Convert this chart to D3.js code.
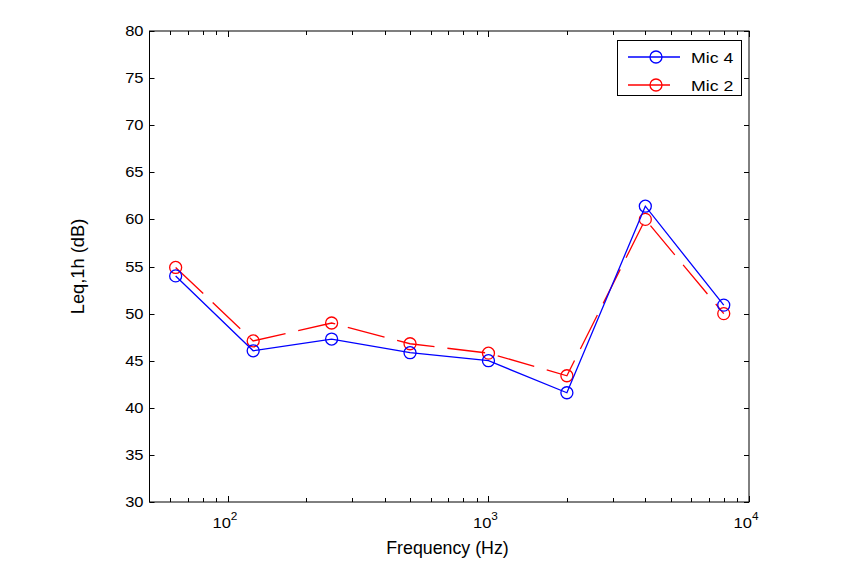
<!DOCTYPE html>
<html><head><meta charset="utf-8">
<script src="https://cdn.jsdelivr.net/npm/d3@7/dist/d3.min.js"></script>
<style>body{margin:0;background:#fff;} text{font-family:"Liberation Sans",Arial,sans-serif;fill:#000;}</style>
</head><body><svg id="c" width="861" height="576"></svg>
<script>
const freqs = [63, 125, 250, 500, 1000, 2000, 4000, 8000];
const mic4 = [54.0, 46.05, 47.3, 45.85, 45.0, 41.6, 61.4, 50.9];
const mic2 = [54.9, 47.1, 49.0, 46.8, 45.8, 43.4, 60.0, 50.0];
const yTicks = [30, 35, 40, 45, 50, 55, 60, 65, 70, 75, 80];
const xMajor = [100, 1000, 10000];
const xMinor = [60,70,80,90,200,300,400,500,600,700,800,900,2000,3000,4000,5000,6000,7000,8000,9000];
const seriesNames = ["Mic 4", "Mic 2"];

const L = 149.5, R = 749, T = 31, B = 502;
const SX = 1.18; // horizontal stretch of text
const svg = d3.select("#c");
const x = d3.scaleLog().domain([50, 10000]).range([L, R]);
const y = d3.scaleLinear().domain([30, 80]).range([B, T]);

const g = svg.append("g");
function stext(px, py, anchor, size, str) {
  const gg = g.append("g").attr("transform", `translate(${px},${py}) scale(${SX},1)`);
  return gg.append("text").attr("text-anchor", anchor).attr("font-size", size).text(str);
}
g.append("rect").attr("x", L).attr("y", T).attr("width", R - L).attr("height", B - T)
  .attr("fill", "none").attr("stroke", "#000").attr("stroke-width", 1);

yTicks.forEach(v => {
  const yy = Math.round(y(v)) + 0.5;
  g.append("line").attr("x1", L).attr("x2", L + 5).attr("y1", yy).attr("y2", yy).attr("stroke", "#000");
  g.append("line").attr("x1", R - 5).attr("x2", R).attr("y1", yy).attr("y2", yy).attr("stroke", "#000");
  stext(L - 6, y(v) + 5, "end", 14, v);
});
xMajor.forEach(v => {
  const xx = Math.round(x(v)) + 0.5;
  g.append("line").attr("x1", xx).attr("x2", xx).attr("y1", B).attr("y2", B - 6).attr("stroke", "#000");
  g.append("line").attr("x1", xx).attr("x2", xx).attr("y1", T).attr("y2", T + 6).attr("stroke", "#000");
  const t = stext(x(v) - 3, B + 26, "middle", 14, null);
  t.append("tspan").text("10");
  t.append("tspan").attr("dy", -8).attr("font-size", 10).text(Math.round(Math.log10(v)));
});
xMinor.forEach(v => {
  const xx = Math.round(x(v)) + 0.5;
  g.append("line").attr("x1", xx).attr("x2", xx).attr("y1", B).attr("y2", B - 4).attr("stroke", "#000");
  g.append("line").attr("x1", xx).attr("x2", xx).attr("y1", T).attr("y2", T + 4).attr("stroke", "#000");
});

g.append("text").attr("x", 447.5).attr("y", 554).attr("text-anchor", "middle")
  .attr("font-size", 17.8).text("Frequency (Hz)");
g.append("text").attr("transform", `translate(84,${(T + B) / 2}) rotate(-90)`).attr("text-anchor", "middle")
  .attr("font-size", 18.3).text("Leq,1h (dB)");

const line = d3.line().x((d, i) => x(freqs[i])).y(d => y(d));
const series = [
  {name: seriesNames[0], vals: mic4, color: "#0000ff", dash: null},
  {name: seriesNames[1], vals: mic2, color: "#ff0000", dash: "38,13"}
];
[series[1], series[0]].forEach(s => {
  g.append("path").attr("d", line(s.vals)).attr("fill", "none").attr("stroke", s.color)
    .attr("stroke-width", 1.3).attr("stroke-dasharray", s.dash);
  g.selectAll(null).data(s.vals).enter().append("circle")
    .attr("cx", (d, i) => x(freqs[i])).attr("cy", d => y(d)).attr("r", 6)
    .attr("fill", "none").attr("stroke", s.color).attr("stroke-width", 1.3);
});

const lg = g.append("g");
lg.append("rect").attr("x", 617.5).attr("y", 40.5).attr("width", 124).attr("height", 55)
  .attr("fill", "#fff").attr("stroke", "#000");
series.forEach((s, i) => {
  const yy = 57 + i * 28;
  lg.append("line").attr("x1", 628).attr("x2", 680).attr("y1", yy).attr("y2", yy)
    .attr("stroke", s.color).attr("stroke-width", 1.3).attr("stroke-dasharray", s.dash ? "42,11" : null);
  lg.append("circle").attr("cx", 656).attr("cy", yy).attr("r", 6).attr("fill", "none")
    .attr("stroke", s.color).attr("stroke-width", 1.3);
  const gg = lg.append("g").attr("transform", `translate(691,${yy + 5.5}) scale(${SX},1)`);
  gg.append("text").attr("font-size", 15).text(s.name);
});
</script></body></html>
